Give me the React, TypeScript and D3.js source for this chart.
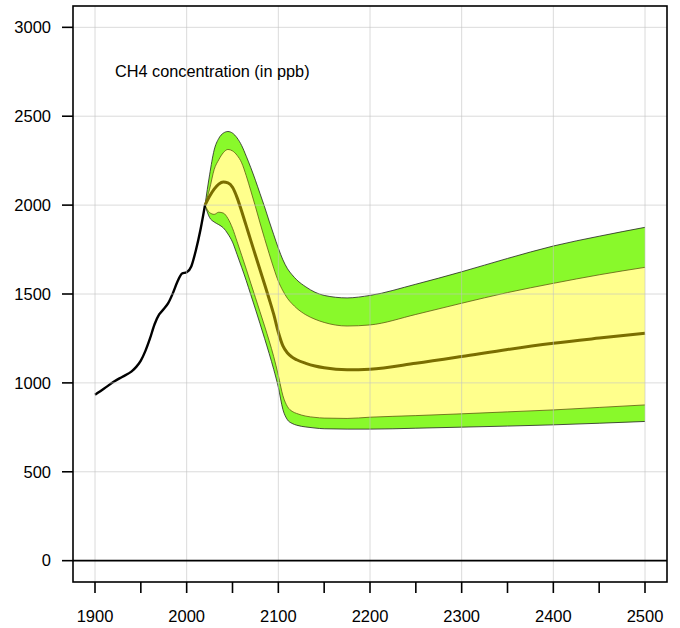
import React from "react";
import * as d3 from "d3";

const histYears = [1900, 1910, 1920, 1930, 1940, 1945, 1950, 1955, 1960, 1965, 1970, 1975, 1980, 1985, 1990, 1995, 2000, 2005, 2010, 2015, 2020];
const histValues = [933, 968, 1005, 1035, 1065, 1090, 1125, 1180, 1250, 1330, 1385, 1415, 1450, 1505, 1570, 1615, 1622, 1655, 1745, 1860, 2000];

const projYears = [2020, 2025, 2030, 2035, 2040, 2045, 2050, 2055, 2060, 2065, 2070, 2075, 2080, 2085, 2090, 2095, 2100, 2105, 2110, 2115, 2120, 2130, 2140, 2150, 2175, 2200, 2250, 2300, 2350, 2400, 2450, 2500];
const outerUpper = [2000, 2170, 2310, 2375, 2405, 2414, 2405, 2378, 2335, 2275, 2210, 2140, 2065, 1990, 1910, 1833, 1758, 1692, 1642, 1608, 1580, 1540, 1510, 1492, 1478, 1492, 1555, 1625, 1700, 1770, 1825, 1875];
const innerUpper = [2000, 2090, 2200, 2255, 2295, 2313, 2305, 2280, 2238, 2165, 2080, 1992, 1900, 1812, 1727, 1645, 1572, 1518, 1475, 1445, 1420, 1383, 1358, 1340, 1320, 1326, 1385, 1448, 1508, 1560, 1608, 1650];
const median = [2000, 2050, 2090, 2118, 2130, 2125, 2100, 2042, 1965, 1883, 1800, 1718, 1636, 1555, 1472, 1385, 1285, 1208, 1168, 1145, 1130, 1110, 1095, 1085, 1074, 1077, 1110, 1148, 1188, 1223, 1252, 1279];
const innerLower = [2000, 1958, 1948, 1960, 1955, 1925, 1870, 1795, 1718, 1640, 1560, 1480, 1400, 1320, 1237, 1147, 1042, 928, 866, 840, 828, 813, 806, 802, 800, 807, 816, 826, 837, 848, 862, 876];
const outerLower = [2000, 1930, 1905, 1890, 1872, 1838, 1792, 1722, 1650, 1575, 1495, 1415, 1333, 1250, 1165, 1075, 975, 850, 792, 772, 762, 752, 746, 742, 740, 740, 745, 751, 757, 764, 773, 783];

const xTicks = [1900, 1950, 2000, 2050, 2100, 2150, 2200, 2250, 2300, 2350, 2400, 2450, 2500];
const xLabels = [1900, 2000, 2100, 2200, 2300, 2400, 2500];
const yTicks = [0, 500, 1000, 1500, 2000, 2500, 3000];
const title = "CH4 concentration (in ppb)";

export default function App() {
  const W = 680, H = 628;
  const x = d3.scaleLinear().domain([1876, 2524]).range([73, 667]);
  const y = d3.scaleLinear().domain([-120, 3120]).range([582, 6]);
  const font = "'Liberation Sans', Arial, Helvetica, sans-serif";

  const idx = projYears.map((_, i) => i);
  const area = (lo: number[], hi: number[]) =>
    d3.area<number>().x(i => x(projYears[i])).y0(i => y(lo[i])).y1(i => y(hi[i])).curve(d3.curveMonotoneX)(idx) || "";
  const line = (vals: number[]) =>
    d3.line<number>().x(i => x(projYears[i])).y(i => y(vals[i])).curve(d3.curveMonotoneX)(idx) || "";
  const histLine = d3.line<number>().x(i => x(histYears[i])).y(i => y(histValues[i])).curve(d3.curveMonotoneX)(histYears.map((_, i) => i)) || "";

  const [x0, x1] = x.range();
  const [yb, yt] = y.range();
  const gridColor = "rgba(195,195,195,0.6)";

  return (
    <svg width={W} height={H} style={{ position: "absolute", left: 0, top: 0, background: "#fff" }}>
      <rect x={0} y={0} width={W} height={H} fill="#fff" />
      <path d={area(outerLower, outerUpper)} fill="#89f92b" stroke="none" />
      <path d={area(innerLower, innerUpper)} fill="#ffff8c" stroke="none" />
      <path d={line(outerUpper)} fill="none" stroke="#222" strokeWidth={0.8} />
      <path d={line(outerLower)} fill="none" stroke="#222" strokeWidth={0.8} />
      <path d={line(innerUpper)} fill="none" stroke="#5e5a10" strokeWidth={0.8} />
      <path d={line(innerLower)} fill="none" stroke="#5e5a10" strokeWidth={0.8} />
      <path d={line(median)} fill="none" stroke="#7a6e00" strokeWidth={3} />
      <path d={histLine} fill="none" stroke="#000" strokeWidth={2.4} />
      {xLabels.map(v => (
        <line key={"gx" + v} x1={x(v)} x2={x(v)} y1={yt} y2={yb} stroke={gridColor} strokeWidth={1} />
      ))}
      {yTicks.map(v => (
        <line key={"gy" + v} x1={x0} x2={x1} y1={y(v)} y2={y(v)} stroke={gridColor} strokeWidth={1} />
      ))}
      <line x1={x0} x2={x1} y1={y(0)} y2={y(0)} stroke="#000" strokeWidth={1.6} />
      <rect x={x0} y={yt} width={x1 - x0} height={yb - yt} fill="none" stroke="#000" strokeWidth={1.6} />
      {xTicks.map(v => (
        <line key={"tx" + v} x1={x(v)} x2={x(v)} y1={yb} y2={yb + 11} stroke="#000" strokeWidth={1.6} />
      ))}
      {yTicks.map(v => (
        <line key={"ty" + v} x1={x0 - 11} x2={x0} y1={y(v)} y2={y(v)} stroke="#000" strokeWidth={1.6} />
      ))}
      {xLabels.map(v => (
        <text key={"lx" + v} x={x(v)} y={622} textAnchor="middle" fontFamily={font} fontSize={16.5} fill="#000">{v}</text>
      ))}
      {yTicks.map(v => (
        <text key={"ly" + v} x={51} y={y(v)} dy="0.35em" textAnchor="end" fontFamily={font} fontSize={16.5} fill="#000">{v}</text>
      ))}
      <text x={115} y={77} fontFamily={font} fontSize={16.3} fill="#000">{title}</text>
    </svg>
  );
}
